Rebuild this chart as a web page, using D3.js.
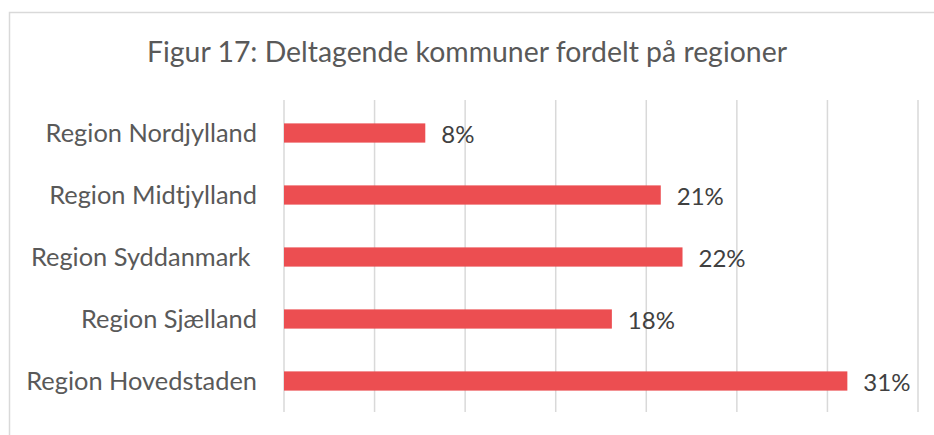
<!DOCTYPE html>
<html lang="da">
<head>
<meta charset="UTF-8">
<title>Figur 17</title>
<script src="https://d3js.org/d3.v7.min.js"></script>
<style>
  body { margin: 0; background: #fff; }
  svg { display: block; font-family: "Source Sans Pro", Lato, "Open Sans", sans-serif; }
  text { white-space: pre; }
</style>
</head>
<body>
<svg id="chart"></svg>
<script>
const regions = ["Region Nordjylland", "Region Midtjylland", "Region Syddanmark ", "Region Sjælland", "Region Hovedstaden"];
const shares = [7.8, 20.8, 22.0, 18.1, 31.1];
const shareLabels = ["8%", "21%", "22%", "18%", "31%"];
const xTicks = [0, 5, 10, 15, 20, 25, 30, 35];

const width = 934, height = 435;
const margin = {top: 102, right: 16, bottom: 23, left: 284};

const svg = d3.select("#chart").attr("width", width).attr("height", height);

// chart frame (right side cut off in original)
svg.append("path")
  .attr("d", `M9.5,${height} V12.5 H${width}`)
  .attr("fill", "none")
  .attr("stroke", "#d9d9d9")
  .attr("stroke-width", 1.5);

svg.append("text")
  .attr("x", 467).attr("y", 62)
  .attr("text-anchor", "middle")
  .attr("fill", "#595959")
  .attr("font-size", 28.4)
  .text("Figur 17: Deltagende kommuner fordelt på regioner");

const x = d3.scaleLinear().domain([0, 35]).range([margin.left, 918]);
const y = d3.scaleBand().domain(regions)
  .range([margin.top, height - margin.bottom])
  .paddingInner(0.69).paddingOuter(0.345);

// gridlines
svg.append("g")
  .selectAll("line")
  .data(xTicks)
  .join("line")
  .attr("x1", d => x(d)).attr("x2", d => x(d))
  .attr("y1", margin.top - 2).attr("y2", height - margin.bottom)
  .attr("stroke", "#d9d9d9")
  .attr("stroke-width", 1.5);

// category labels
svg.append("g")
  .selectAll("text")
  .data(regions)
  .join("text")
  .attr("x", 257)
  .attr("y", d => y(d) + y.bandwidth() / 2)
  .attr("dy", "0.35em")
  .attr("text-anchor", "end")
  .attr("fill", "#595959")
  .attr("font-size", 25.4)
  .text(d => d);

// bars
svg.append("g")
  .selectAll("rect")
  .data(shares)
  .join("rect")
  .attr("x", x(0))
  .attr("y", (d, i) => y(regions[i]))
  .attr("width", d => x(d) - x(0))
  .attr("height", y.bandwidth())
  .attr("fill", "#ec4e51");

// value labels
svg.append("g")
  .selectAll("text")
  .data(shares)
  .join("text")
  .attr("x", d => x(d) + 16)
  .attr("y", (d, i) => y(regions[i]) + y.bandwidth() / 2 + 1.5)
  .attr("dy", "0.35em")
  .attr("fill", "#404040")
  .attr("font-size", 24)
  .text((d, i) => shareLabels[i]);
</script>
</body>
</html>
